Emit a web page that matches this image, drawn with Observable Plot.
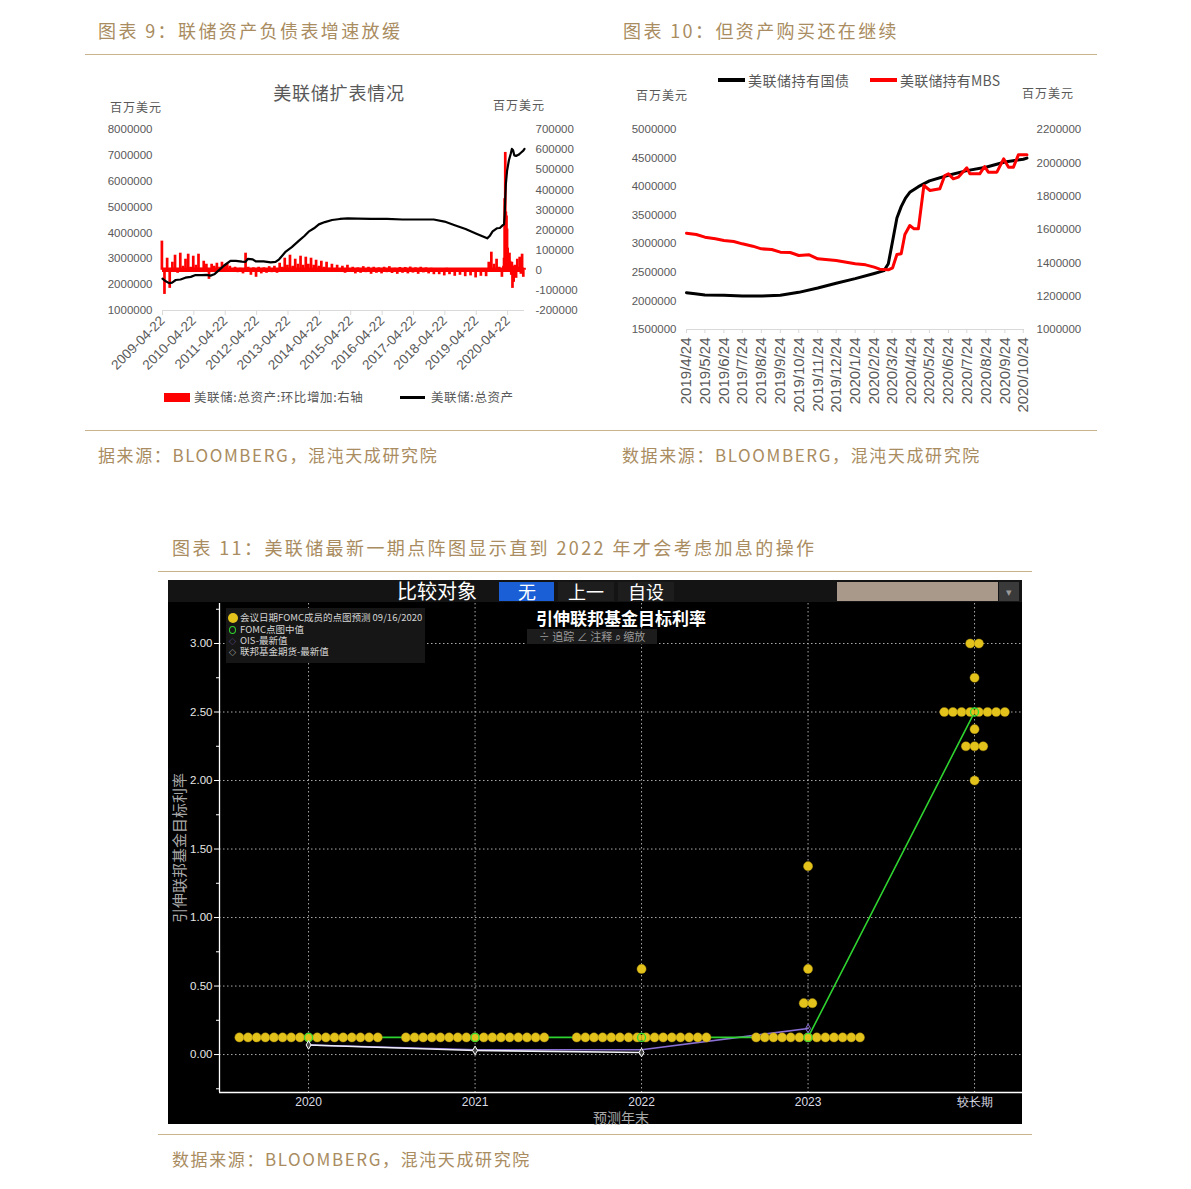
<!DOCTYPE html>
<html><head><meta charset="utf-8">
<script src="https://cdn.jsdelivr.net/npm/d3@7"></script>
<script src="https://cdn.jsdelivr.net/npm/@observablehq/plot@0.6"></script>
<style>
body{margin:0;background:#fff;}
#page{position:relative;width:1191px;height:1189px;overflow:hidden;background:#fff;font-family:"Noto Sans CJK SC","Noto Sans",sans-serif;}
</style></head>
<body><div id="page"></div>
<script>
// ---------------- DATA ----------------
// Chart 9: Fed total assets (left axis, million USD)
const assetDates = ["2009-04-22","2009-05-20","2009-07-08","2009-08-12","2009-09-23","2009-11-18","2010-01-13","2010-03-17","2010-05-12","2010-07-21","2010-09-15","2010-11-03","2010-12-15","2011-02-09","2011-04-13","2011-06-22","2011-08-24","2011-11-02","2011-12-14","2012-01-11","2012-03-07","2012-04-11","2012-07-11","2012-10-03","2012-11-28","2013-01-09","2013-03-27","2013-06-05","2013-08-28","2013-10-30","2013-12-18","2014-02-19","2014-04-16","2014-06-25","2014-09-17","2014-12-17","2015-03-18","2015-07-15","2015-12-16","2016-06-15","2016-12-14","2017-06-14","2017-12-13","2018-04-18","2018-08-15","2018-12-19","2019-04-17","2019-07-17","2019-08-28","2019-09-25","2019-10-30","2019-12-18","2020-01-22","2020-02-26","2020-03-11","2020-03-18","2020-03-25","2020-04-01","2020-04-15","2020-05-06","2020-05-27","2020-06-10","2020-06-24","2020-07-08","2020-07-29","2020-08-26","2020-09-23","2020-10-21","2020-11-04"];
const assetValues = [2230000,2150000,2060000,2080000,2180000,2200000,2270000,2300000,2370000,2370000,2380000,2350000,2400000,2560000,2750000,2920000,2920000,2890000,2880000,3000000,2980000,2900000,2900000,2860000,2880000,2980000,3280000,3450000,3700000,3880000,4050000,4180000,4330000,4420000,4500000,4540000,4560000,4550000,4540000,4540000,4520000,4520000,4520000,4440000,4300000,4150000,3980000,3850000,3790000,3880000,4060000,4180000,4190000,4300000,4330000,4700000,5300000,5900000,6400000,6800000,7050000,7250000,7200000,7000000,6980000,7020000,7100000,7180000,7250000];
// Chart 9: change in total assets (right axis), monthly samples 2009-04 .. 2020-02
const changeStart = "2009-04-15";
const changeMonthly = [
  145000,-120000,60000,-90000,40000,75000,-15000,85000,20000,
  55000,80000,15000,70000,25000,80000,10000,45000,30000,-45000,30000,20000,
  35000,15000,40000,25000,30000,20000,8000,15000,-12000,10000,-18000,85000,
  15000,-25000,12000,-35000,15000,-18000,12000,-15000,18000,-12000,20000,-15000,
  35000,15000,60000,25000,75000,20000,55000,30000,70000,25000,65000,30000,
  60000,25000,50000,20000,45000,15000,40000,10000,30000,-5000,25000,-10000,
  20000,-15000,25000,-10000,15000,-18000,12000,-15000,18000,-12000,15000,-20000,
  15000,-15000,12000,-18000,15000,-12000,18000,-16000,10000,-20000,14000,-15000,
  14000,-18000,16000,-14000,12000,-20000,15000,-13000,12000,-18000,10000,-22000,
  8000,-22000,6000,-28000,10000,-22000,4000,-30000,8000,-25000,-2000,-32000,
  8000,-28000,2000,-38000,8000,-30000,-2000,-32000,40000,90000,30000,55000,
  15000,-35000];
const change2020Dates = ["2020-03-04","2020-03-11","2020-03-18","2020-03-25","2020-04-01","2020-04-08","2020-04-15","2020-04-22","2020-04-29","2020-05-06","2020-05-13","2020-05-20","2020-05-27","2020-06-03","2020-06-10","2020-06-17","2020-06-24","2020-07-01","2020-07-15","2020-07-29","2020-08-12","2020-08-26","2020-09-09","2020-09-23","2020-10-07","2020-10-21","2020-11-04"];
const change2020Values = [20000,60000,356000,586000,290000,270000,205000,110000,70000,60000,85000,45000,30000,-25000,40000,-90000,20000,-60000,25000,-40000,55000,15000,65000,-20000,80000,-35000,10000];
const c1XTicks = ["2009-04-22","2010-04-22","2011-04-22","2012-04-22","2013-04-22","2014-04-22","2015-04-22","2016-04-22","2017-04-22","2018-04-22","2019-04-22","2020-04-22"];
const c1LeftTicks = [1000000,2000000,3000000,4000000,5000000,6000000,7000000,8000000];
const c1RightTicks = [-200000,-100000,0,100000,200000,300000,400000,500000,600000,700000];

// Chart 10: Treasuries (left) and MBS (right)
const tsyDates = ["2019-04-24","2019-05-08","2019-05-24","2019-06-24","2019-07-24","2019-08-24","2019-09-24","2019-10-24","2019-11-24","2019-12-24","2020-01-24","2020-02-24","2020-03-11","2020-03-18","2020-03-25","2020-04-01","2020-04-08","2020-04-15","2020-04-22","2020-05-06","2020-05-24","2020-06-24","2020-07-24","2020-08-24","2020-09-24","2020-10-24","2020-10-30"];
const tsyValues = [2145000,2125000,2105000,2100000,2085000,2085000,2100000,2150000,2225000,2310000,2390000,2480000,2530000,2650000,3050000,3450000,3650000,3800000,3900000,4000000,4100000,4200000,4280000,4340000,4430000,4480000,4500000];
const mbsDates = ["2019-04-24","2019-05-10","2019-05-24","2019-06-10","2019-06-24","2019-07-10","2019-07-24","2019-08-10","2019-08-24","2019-09-10","2019-09-24","2019-10-10","2019-10-24","2019-11-10","2019-11-24","2019-12-24","2020-01-24","2020-02-10","2020-02-24","2020-03-04","2020-03-18","2020-03-25","2020-04-01","2020-04-08","2020-04-14","2020-04-22","2020-04-29","2020-05-06","2020-05-15","2020-05-25","2020-06-10","2020-06-18","2020-06-24","2020-07-02","2020-07-10","2020-07-24","2020-07-29","2020-08-14","2020-08-22","2020-08-28","2020-09-11","2020-09-22","2020-09-30","2020-10-08","2020-10-16","2020-10-30"];
const mbsValues = [1578000,1570000,1554000,1545000,1534000,1528000,1514000,1500000,1484000,1480000,1464000,1462000,1444000,1448000,1424000,1414000,1394000,1388000,1374000,1362000,1358000,1370000,1450000,1455000,1570000,1624000,1604000,1604000,1864000,1834000,1844000,1924000,1934000,1904000,1914000,1970000,1934000,1934000,1978000,1944000,1944000,2024000,1974000,1974000,2048000,2048000];
const c2XTicks = ["2019/4/24","2019/5/24","2019/6/24","2019/7/24","2019/8/24","2019/9/24","2019/10/24","2019/11/24","2019/12/24","2020/1/24","2020/2/24","2020/3/24","2020/4/24","2020/5/24","2020/6/24","2020/7/24","2020/8/24","2020/9/24","2020/10/24"];
const c2LeftTicks = [1500000,2000000,2500000,3000000,3500000,4000000,4500000,5000000];
const c2RightTicks = [1000000,1200000,1400000,1600000,1800000,2000000,2200000];

// Chart 11: FOMC dot plot 09/16/2020
const horizons = ["2020","2021","2022","2023","较长期"];
const dotRates = [[0.125],[0.125],[0.125,0.625],[0.125,0.375,0.625,1.375],[2.0,2.25,2.375,2.5,2.75,3.0]];
const dotCounts = [[17],[17],[16,1],[13,2,1,1],[1,3,1,8,1,2]];
const medianRates = [0.125,0.125,0.125,0.125,2.5];
const oisRates = [0.07,0.035,0.035,0.19];
const futuresRates = [0.07,0.03,0.015];
const c3MajorTicks = [0,0.5,1,1.5,2,2.5,3];
const c3MinorTicks = [-0.25,0.25,0.75,1.25,1.75,2.25,2.75,3.25];

// ---------------- HELPERS ----------------
const NUM = '"Liberation Sans","Arimo",Arial,sans-serif';
const CJK = '"Noto Sans CJK SC","Noto Sans",sans-serif';
const GOLD = "#a98c5f";
const GRAY = "#595959";
const page = document.getElementById("page");
function addText(str, x, y, opts = {}) {
  const d = document.createElement("div");
  d.textContent = str;
  Object.assign(d.style, {position:"absolute", whiteSpace:"nowrap", lineHeight:"1", left:x+"px", top:y+"px", fontFamily:CJK});
  const ax = opts.anchor === "middle" ? "-50%" : opts.anchor === "end" ? "-100%" : "0";
  d.style.transform = `translate(${ax},-50%)` + (opts.rotate ? ` rotate(${opts.rotate}deg)` : "");
  Object.assign(d.style, opts.style || {});
  page.appendChild(d);
  return d;
}
function addBox(x, y, w, h, style) {
  const d = document.createElement("div");
  Object.assign(d.style, {position:"absolute", left:x+"px", top:y+"px", width:w+"px", height:h+"px"}, style);
  page.appendChild(d);
  return d;
}
function addSvg(el, x, y) {
  el.style.position = "absolute"; el.style.left = x+"px"; el.style.top = y+"px";
  page.appendChild(el);
}
const hdr = {color:GOLD, fontSize:"18px", letterSpacing:"2.4px"};
const src = {color:GOLD, fontSize:"17px", letterSpacing:"1.6px"};

// ---------------- PAGE TEXT ----------------
addText("图表 9：联储资产负债表增速放缓", 98, 30, {style:hdr});
addText("图表 10：但资产购买还在继续", 623, 30, {style:hdr});
addBox(85, 54, 1012, 1, {background:"#c9b38c"});
addBox(85, 430, 1012, 1, {background:"#c9b38c"});
addText("据来源：BLOOMBERG，混沌天成研究院", 98, 454, {style:src});
addText("数据来源：BLOOMBERG，混沌天成研究院", 622, 454, {style:src});
addText("图表 11：美联储最新一期点阵图显示直到 2022 年才会考虑加息的操作", 172, 547, {style:hdr});
addBox(158, 571, 874, 1, {background:"#c9b38c"});
addBox(158, 1134, 874, 1, {background:"#c9b38c"});
addText("数据来源：BLOOMBERG，混沌天成研究院", 172, 1158, {style:src});

// ---------------- CHART 9 ----------------
const c1 = {width:500, height:275, marginTop:14, marginBottom:80, marginLeft:77, marginRight:61};
const c1X = {type:"utc", domain:[new Date("2009-04-22"), new Date("2020-11-04")]};
const assets = assetDates.map((d, i) => ({date:new Date(d), v:assetValues[i]}));
const changeData = changeMonthly.map((v, i) => ({date:d3.utcMonth.offset(new Date(changeStart), i), v}))
  .concat(change2020Dates.map((d, i) => ({date:new Date(d), v:change2020Values[i]})));
const p1red = Plot.plot({
  ...c1,
  style:{background:"transparent", color:GRAY, fontFamily:NUM, fontSize:"11.5px"},
  x:c1X,
  y:{domain:[-200000, 700000]},
  marks:[
    Plot.ruleY([3000], {x1:c1X.domain[0], x2:c1X.domain[1], stroke:"#ff0000", strokeWidth:4.5}),
    Plot.ruleX(changeData, {x:"date", y1:0, y2:"v", stroke:"#ff0000", strokeWidth:2.7}),
    Plot.ruleY([-200000], {stroke:"#d9d9d9", strokeWidth:1.2}),
    Plot.axisX({ticks:c1XTicks.map(s => new Date(s)), tickFormat:d => d.toISOString().slice(0,10), tickRotate:-45, tickSize:5, tickPadding:3, stroke:"#d9d9d9", fill:GRAY, textAnchor:"end", fontSize:13.5, label:null}),
    Plot.axisY({anchor:"right", ticks:c1RightTicks, tickSize:0, tickPadding:11, tickFormat:d => String(d), fill:GRAY, label:null})
  ]
});
const p1black = Plot.plot({
  ...c1,
  style:{background:"transparent", color:GRAY, fontFamily:NUM, fontSize:"11.5px"},
  x:{...c1X, axis:null},
  y:{domain:[1000000, 8000000]},
  marks:[
    Plot.lineY(assets, {x:"date", y:"v", stroke:"#000", strokeWidth:2.2}),
    Plot.axisY({anchor:"left", ticks:c1LeftTicks, tickSize:0, tickPadding:10, tickFormat:d => String(d), fill:GRAY, label:null})
  ]
});
addSvg(p1red, 85, 115);
addSvg(p1black, 85, 115);
addText("美联储扩表情况", 339, 92, {anchor:"middle", style:{color:GRAY, fontSize:"18px", letterSpacing:"0.8px"}});
addText("百万美元", 110, 107, {style:{color:GRAY, fontSize:"12px", letterSpacing:"1px"}});
addText("百万美元", 493, 105, {style:{color:GRAY, fontSize:"12px", letterSpacing:"1px"}});
addBox(164, 393, 26, 9, {background:"#ff0000"});
addText("美联储:总资产:环比增加:右轴", 194, 397, {style:{color:GRAY, fontSize:"12.5px", letterSpacing:"0.6px"}});
addBox(400, 396, 25, 3, {background:"#000"});
addText("美联储:总资产", 431, 397, {style:{color:GRAY, fontSize:"12.5px", letterSpacing:"0.6px"}});

// ---------------- CHART 10 ----------------
const c2 = {width:490, height:305, marginTop:14, marginBottom:91, marginLeft:76, marginRight:76};
const parse2 = d3.utcParse("%Y/%m/%d");
const c2X = {type:"utc", domain:[new Date("2019-04-24"), new Date("2020-10-26")]};
const tsy = tsyDates.map((d, i) => ({date:new Date(d), v:tsyValues[i]}));
const mbs = mbsDates.map((d, i) => ({date:new Date(d), v:mbsValues[i]}));
const p2black = Plot.plot({
  ...c2,
  style:{background:"transparent", color:GRAY, fontFamily:NUM, fontSize:"11.5px"},
  x:c2X,
  y:{domain:[1500000, 5000000]},
  marks:[
    Plot.ruleY([1500000], {stroke:"#d9d9d9", strokeWidth:1.2}),
    Plot.axisX({ticks:c2XTicks.map(parse2), tickFormat:d => `${d.getUTCFullYear()}/${d.getUTCMonth()+1}/${d.getUTCDate()}`, tickRotate:-90, tickSize:4, tickPadding:4, stroke:"#d9d9d9", fill:GRAY, textAnchor:"end", fontSize:15, label:null}),
    Plot.lineY(tsy, {x:"date", y:"v", stroke:"#000", strokeWidth:3}),
    Plot.axisY({anchor:"left", ticks:c2LeftTicks, tickSize:0, tickPadding:10, tickFormat:d => String(d), fill:GRAY, label:null})
  ]
});
const p2red = Plot.plot({
  ...c2,
  style:{background:"transparent", color:GRAY, fontFamily:NUM, fontSize:"11.5px"},
  x:{...c2X, axis:null},
  y:{domain:[1000000, 2200000]},
  marks:[
    Plot.lineY(mbs, {x:"date", y:"v", stroke:"#ff0000", strokeWidth:3}),
    Plot.axisY({anchor:"right", ticks:c2RightTicks, tickSize:0, tickPadding:12, tickFormat:d => String(d), fill:GRAY, label:null})
  ]
});
addSvg(p2black, 610, 115);
addSvg(p2red, 610, 115);
addText("百万美元", 636, 95, {style:{color:GRAY, fontSize:"12px", letterSpacing:"1px"}});
addText("百万美元", 1022, 93, {style:{color:GRAY, fontSize:"12px", letterSpacing:"1px"}});
addBox(718, 78, 27, 4, {background:"#000"});
addText("美联储持有国债", 748, 80, {style:{color:GRAY, fontSize:"14px", letterSpacing:"0.5px"}});
addBox(870, 78, 27, 4, {background:"#ff0000"});
addText("美联储持有MBS", 900, 80, {style:{color:GRAY, fontSize:"14px", letterSpacing:"0.2px"}});

// ---------------- CHART 11 ----------------
addBox(168, 580, 854, 544, {background:"#000"});
addBox(168, 580, 854, 22, {background:"#141414"});
addText("比较对象", 437, 591, {anchor:"middle", style:{color:"#fff", fontSize:"20px"}});
addBox(499, 582, 55, 19, {background:"#1a5fd6"});
addText("无", 527, 591, {anchor:"middle", style:{color:"#fff", fontSize:"18px"}});
addBox(558, 582, 56, 19, {background:"#1d1d1d"});
addText("上一", 586, 591, {anchor:"middle", style:{color:"#fff", fontSize:"18px"}});
addBox(618, 582, 56, 19, {background:"#1d1d1d"});
addText("自设", 646, 591, {anchor:"middle", style:{color:"#fff", fontSize:"18px"}});
addBox(837, 582, 161, 19, {background:"#a8998a"});
addBox(999, 582, 20, 19, {background:"#3a3a3a"});
addText("▾", 1009, 591, {anchor:"middle", style:{color:"#999", fontSize:"11px"}});

const step = 8.65 / 166.5;
const dots = [];
dotRates.forEach((rates, i) => rates.forEach((r, j) => {
  const n = dotCounts[i][j];
  for (let k = 0; k < n; k++) dots.push({x:i + (k - (n - 1) / 2) * step, y:r});
}));
const med = medianRates.map((v, i) => ({i, v}));
const ois = oisRates.map((v, i) => ({i, v}));
const fut = futuresRates.map((v, i) => ({i, v}));
const p3 = Plot.plot({
  width:854, height:522, marginTop:1, marginBottom:32, marginLeft:51, marginRight:0,
  style:{background:"transparent", color:"#e6e6e6", fontFamily:NUM, fontSize:"11.5px"},
  x:{domain:[-0.535, 4.288]},
  y:{domain:[-0.277, 3.292]},
  marks:[
    Plot.gridY({ticks:c3MajorTicks, stroke:"#c8c8c8", strokeOpacity:0.85, strokeDasharray:"1.5,2.5", strokeWidth:1}),
    Plot.gridX({ticks:[0,1,2,3,4], stroke:"#c8c8c8", strokeOpacity:0.85, strokeDasharray:"1.5,2.5", strokeWidth:1}),
    Plot.ruleX([-0.535], {stroke:"#fff", strokeWidth:1.3}),
    Plot.ruleY([-0.277], {stroke:"#fff", strokeWidth:1.3}),
    Plot.axisY({ticks:c3MajorTicks, tickSize:5, tickPadding:2, tickFormat:d => d.toFixed(2), stroke:"#fff", fill:"#e6e6e6", label:null}),
    Plot.axisY({ticks:c3MinorTicks, tickSize:3, tickFormat:() => "", stroke:"#fff", label:null}),
    Plot.axisX({ticks:[0,1,2,3,4], tickSize:0, tickPadding:5, tickFormat:i => horizons[i], fill:"#dcdce6", fontSize:12, label:null}),
    Plot.line(ois, {x:"i", y:"v", stroke:"#8a6fd4", strokeWidth:1.6}),
    Plot.line(fut, {x:"i", y:"v", stroke:"#eeeef6", strokeWidth:1.6}),
    Plot.line(med, {x:"i", y:"v", stroke:"#2fd32f", strokeWidth:1.6}),
    Plot.dot(dots, {x:"x", y:"y", r:4.6, fill:"#e3c21b", stroke:"#a88d10", strokeWidth:0.4}),
    Plot.dot(med, {x:"i", y:"v", r:4, stroke:"#33dd33", strokeWidth:1.3, fill:"none"}),
    Plot.dot(fut, {x:"i", y:"v", symbol:"diamond", r:2.6, stroke:"#fff", fill:"#444", strokeWidth:1}),
    Plot.dot(ois.slice(3), {x:"i", y:"v", symbol:"diamond", r:2.6, stroke:"#8a6fd4", fill:"none", strokeWidth:1})
  ]
});
addSvg(p3, 168, 602);
addText("引伸联邦基金目标利率", 621, 617, {anchor:"middle", style:{color:"#fff", fontSize:"17px", fontWeight:"bold"}});
addBox(527, 629, 130, 15, {background:"#1c1c1c"});
addText("÷ 追踪  ∠ 注释  ⌕ 缩放", 592, 636, {anchor:"middle", style:{color:"#9a9a9a", fontSize:"11px"}});
addBox(226, 608, 199, 55, {background:"#161616"});
addBox(228, 613, 10, 10, {background:"#e3c21b", borderRadius:"50%"});
addText("会议日期FOMC成员的点图预测 09/16/2020", 240, 618, {style:{color:"#d4d4d4", fontSize:"9.5px"}});
addBox(229, 626, 5, 6, {border:"1.5px solid #2fd32f", borderRadius:"50%"});
addText("FOMC点图中值", 240, 630, {style:{color:"#d4d4d4", fontSize:"9.5px"}});
addText("◇", 229, 641, {style:{color:"#8a6fd4", fontSize:"7px"}});
addText("OIS-最新值", 240, 641, {style:{color:"#d4d4d4", fontSize:"9.5px"}});
addText("◇", 229, 652, {style:{color:"#fff", fontSize:"7px"}});
addText("联邦基金期货-最新值", 240, 652, {style:{color:"#d4d4d4", fontSize:"9.5px"}});
addText("引伸联邦基金目标利率", 178, 848, {anchor:"middle", rotate:-90, style:{color:"#a8a8a8", fontSize:"15px"}});
addText("预测年末", 621, 1117, {anchor:"middle", style:{color:"#a8a8a8", fontSize:"14px"}});
</script>
</body></html>
